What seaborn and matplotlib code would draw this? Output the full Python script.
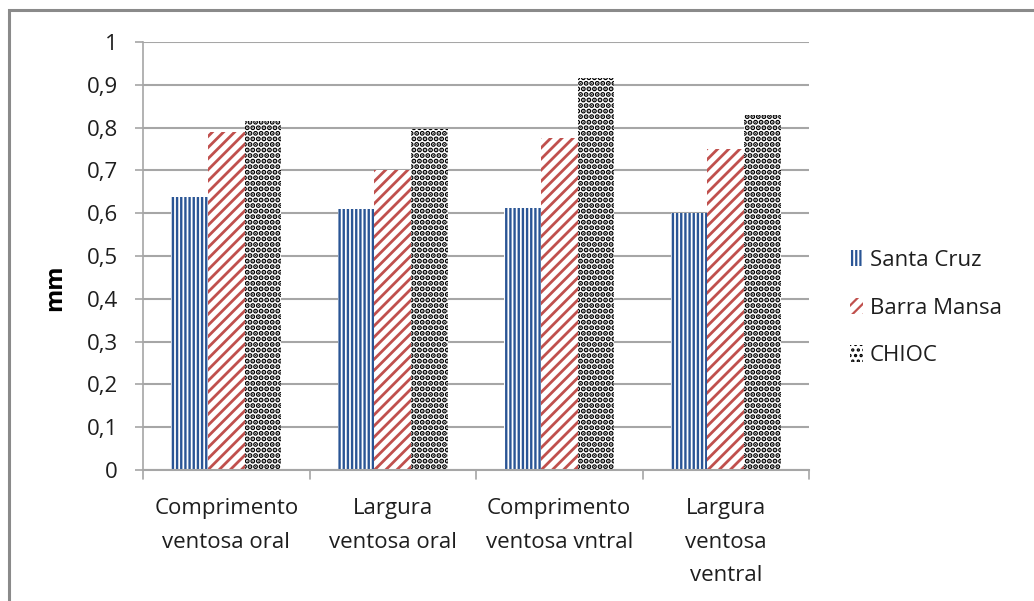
import matplotlib
matplotlib.use("Agg")
import matplotlib.pyplot as plt
import seaborn as sns
import pandas as pd
from matplotlib.patches import Rectangle, Patch
from matplotlib.ticker import FuncFormatter, MultipleLocator

# Measurements (mm) of the suckers for each population
categories = [
    "Comprimento\nventosa oral",
    "Largura\nventosa oral",
    "Comprimento\nventosa vntral",
    "Largura\nventosa\nventral",
]
series = ["Santa Cruz", "Barra Mansa", "CHIOC"]
santa_cruz = [0.637, 0.610, 0.612, 0.601]
barra_mansa = [0.790, 0.701, 0.776, 0.749]
chioc = [0.815, 0.797, 0.917, 0.829]
y_label = "mm"

hatch_colors = {"Santa Cruz": "#2A5595", "Barra Mansa": "#C0504D", "CHIOC": "#000000"}
hatches = {"Santa Cruz": "||||", "Barra Mansa": "///", "CHIOC": "..."}
hatch_widths = {"Santa Cruz": 1.7, "Barra Mansa": 2.0, "CHIOC": 2.6}

sns.set_style("white")
plt.rcParams["font.family"] = ["Open Sans", "DejaVu Sans"]
plt.rcParams["hatch.linewidth"] = 1.6

df = pd.DataFrame({
    "categoria": categories * 3,
    "serie": [s for s in series for _ in categories],
    "valor": santa_cruz + barra_mansa + chioc,
})

fig = plt.figure(figsize=(10.34, 6.01), dpi=100)
fig.patch.set_facecolor("white")
ax = fig.add_axes([143 / 1034, 131 / 601, 666 / 1034, 428 / 601])

sns.barplot(
    data=df, x="categoria", y="valor", hue="serie", order=categories,
    hue_order=series, palette=["white"] * 3, width=0.66, gap=0,
    errorbar=None, legend=False, ax=ax, saturation=1,
)


def style_patch(p, name):
    p.set_facecolor("white")
    p.set_edgecolor(hatch_colors[name])
    p.set_hatch(hatches[name])
    p.set_linewidth(0)
    if hasattr(p, "set_hatch_linewidth"):
        p.set_hatch_linewidth(hatch_widths[name])
    else:
        p._hatch_linewidth = hatch_widths[name]


for container, name in zip(ax.containers, series):
    for bar in container:
        style_patch(bar, name)

ax.set_ylim(0, 1)
ax.set_xlim(-0.5, len(categories) - 0.5)
ax.yaxis.set_major_locator(MultipleLocator(0.1))
ax.yaxis.set_major_formatter(
    FuncFormatter(lambda v, _: "0" if abs(v) < 1e-9 else ("1" if abs(v - 1) < 1e-9 else f"{v:.1f}".replace(".", ",")))
)
ax.grid(axis="y", color="#A6A6A6", linewidth=1.5)
ax.set_axisbelow(True)
for side in ["top", "right"]:
    ax.spines[side].set_visible(False)
ax.spines["left"].set_color("#A6A6A6")
ax.spines["bottom"].set_color("#A6A6A6")
ax.spines["left"].set_linewidth(1.2)
ax.spines["bottom"].set_linewidth(1.5)

ax.tick_params(axis="y", left=True, length=6, width=1.2, color="#A6A6A6",
               pad=12, labelsize=16, labelcolor="#1E1E1E")
ax.set_xticks(range(len(categories)))
ax.set_xticklabels(categories, fontsize=16, color="#1E1E1E", linespacing=1.78, va="top")
ax.tick_params(axis="x", bottom=False, pad=17)
# boundary ticks between categories
for b in [-0.5, 0.5, 1.5, 2.5, 3.5]:
    ax.plot([b, b], [0, -0.02], color="#A6A6A6", lw=1.2, clip_on=False,
            transform=ax.transData)
ax.set_xlabel("")
ax.set_ylabel("")
fig.text(55 / 1034, 1 - 288 / 601, y_label, rotation=90, fontsize=17,
         fontweight="bold", ha="center", va="center", color="black")

handles = []
for s in series:
    h = Patch(label=s)
    style_patch(h, s)
    handles.append(h)
fig.legend(handles, series, loc="center left",
           bbox_to_anchor=(830 / 1034, 1 - 308 / 601), frameon=False,
           fontsize=16, handlelength=0.6, handleheight=0.75, handletextpad=0.3,
           labelspacing=1.2, labelcolor="#1E1E1E")

# outer chart frame
fig.add_artist(Rectangle((9 / 1034, -0.1), 1.2, 1.1 - 10 / 601,
                         transform=fig.transFigure, fill=False,
                         edgecolor="#8A8A8A", linewidth=2.2))

fig.savefig("out.png", dpi=100, facecolor="white")
